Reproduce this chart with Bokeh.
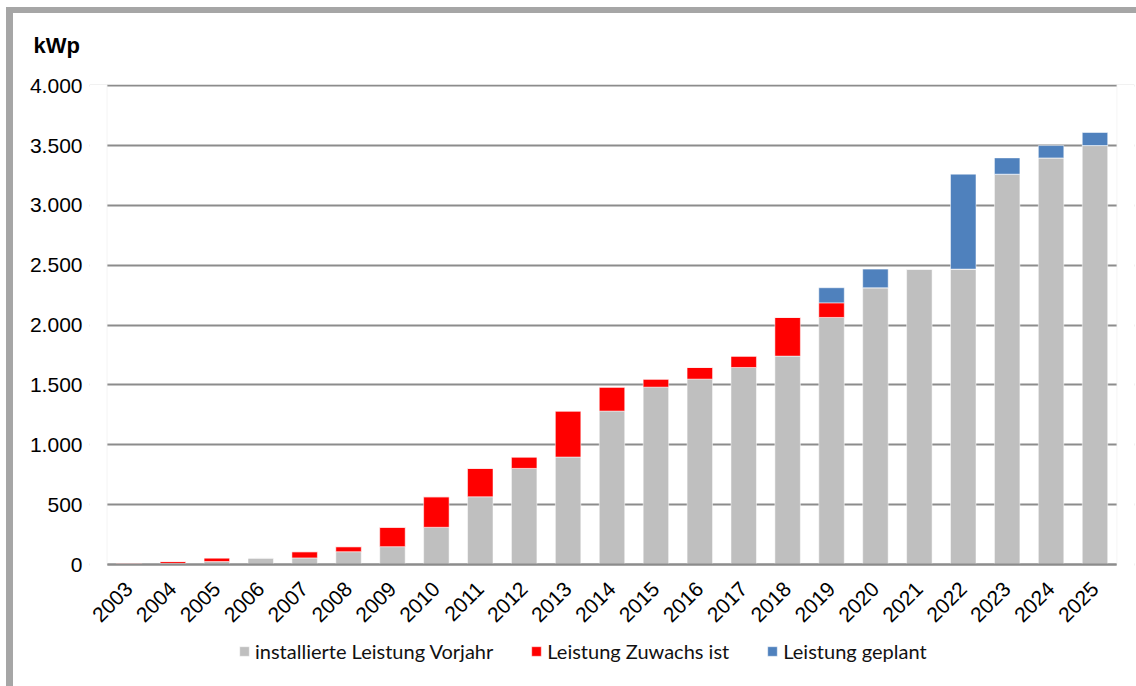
from math import pi

from bokeh.embed import file_html
from bokeh.models import (BoxAnnotation, ColumnDataSource, CustomJSTickFormatter,
                          FactorRange, InlineStyleSheet, Legend, LegendItem,
                          Range1d, Title)
from bokeh.plotting import figure
from bokeh.resources import INLINE

# Photovoltaik-Leistung je Jahr in kWp
years = [str(y) for y in range(2003, 2026)]
vorjahr = [0, 10, 25, 55, 55, 107, 149, 311, 566, 803, 898, 1282, 1482,
           1549, 1646, 1741, 2064, 2312, 2468, 2468, 3261, 3397, 3500]
zuwachs = [10, 15, 30, 0, 52, 42, 162, 255, 237, 95, 384, 200, 67,
           97, 95, 323, 122, 0, 0, 0, 0, 0, 0]
geplant = [0, 0, 0, 0, 0, 0, 0, 0, 0, 0, 0, 0, 0,
           0, 0, 0, 126, 156, 0, 793, 136, 103, 109]
y_ticks = [0, 500, 1000, 1500, 2000, 2500, 3000, 3500, 4000]

series = ["vorjahr", "zuwachs", "geplant"]
series_labels = ["installierte Leistung Vorjahr", "Leistung Zuwachs ist", "Leistung geplant"]
colors = ["#BFBFBF", "#FF0000", "#4F81BD"]

src = ColumnDataSource(dict(year=years, vorjahr=vorjahr, zuwachs=zuwachs, geplant=geplant))

# The plot frame reaches down to the page bottom so that the year labels and the
# legend sit inside it; the value axis itself runs from 0 to 4.000.  A little
# padding left and right keeps the rotated first year label inside the frame.
Y_TOP = 4010
Y_BOTTOM = -1019
N = len(years)

p = figure(
    x_range=FactorRange(*years, range_padding=0.4, range_padding_units="absolute"),
    y_range=Range1d(Y_BOTTOM, Y_TOP),
    width=1136, height=686,
    output_backend="svg", toolbar_location=None,
    min_border_left=89, min_border_right=2,
    min_border_top=84, min_border_bottom=0,
    background_fill_color="white", border_fill_color="white",
)

bars = p.vbar_stack(series, x="year", width=0.58, source=src,
                    fill_color=colors, line_color="white", line_alpha=0.5, line_width=1)

# blank out the gridlines in the side paddings, then a light border round the value area
for side in (dict(left=-2, right=0), dict(left=N, right=N + 2)):
    p.add_layout(BoxAnnotation(bottom=-40, top=Y_TOP + 100, fill_color="white", fill_alpha=1,
                               line_color="white", line_width=2, level="glyph", **side))
p.add_layout(BoxAnnotation(left=0, right=N, bottom=0, fill_alpha=0,
                           line_color="#d9d9d9", line_width=1, level="glyph"))

# axes
p.yaxis.ticker = y_ticks
p.yaxis.formatter = CustomJSTickFormatter(
    code="return Math.round(tick).toString().replace(/\\B(?=(\\d{3})+(?!\\d))/g, '.');")
p.yaxis.axis_line_color = None
p.yaxis.major_tick_line_color = None
p.yaxis.minor_tick_line_color = None
p.yaxis.major_tick_out = 0
p.yaxis.major_label_standoff = 7
p.yaxis.major_label_text_font = "Liberation Sans"
p.yaxis.major_label_text_font_size = "21px"
p.yaxis.major_label_text_color = "black"

p.xaxis.fixed_location = 0
p.xaxis.bounds = (0, N)
p.xaxis.axis_line_color = "#8c8c8c"
p.xaxis.axis_line_width = 2
p.xaxis.major_tick_line_color = None
p.xaxis.major_tick_out = 0
p.xaxis.major_label_orientation = pi / 4
p.xaxis.major_label_standoff = 21
p.xaxis.major_label_text_font = "Liberation Sans"
p.xaxis.major_label_text_font_size = "21px"
p.xaxis.major_label_text_color = "black"

p.xgrid.grid_line_color = None
p.ygrid.grid_line_color = "#8c8c8c"
p.ygrid.grid_line_width = 2

p.outline_line_color = None

# unit label above the value axis
p.add_layout(Title(text="kWp", align="left", offset=-56, standoff=53,
                   text_font="Liberation Sans", text_font_style="bold",
                   text_font_size="22px", text_color="black"), "above")

# legend under the year labels
legend = Legend(
    items=[LegendItem(label=lab, renderers=[r]) for lab, r in zip(series_labels, bars)],
    orientation="horizontal", location=(149, 23),
    glyph_width=12, glyph_height=12, label_standoff=5, spacing=37,
    padding=0, margin=0, border_line_color=None, background_fill_alpha=0,
    label_text_font="Lato", label_text_font_size="20px", label_text_color="#111111",
)
p.add_layout(legend)

# grey frame along the top and left edges of the page
p.stylesheets = [InlineStyleSheet(css="""
:host { position: relative; }
:host::before { content: ""; position: absolute; left: 6px; top: 7px;
                width: 1130px; height: 6px; background: #a6a6a6; z-index: 10; }
:host::after  { content: ""; position: absolute; left: 6px; top: 7px;
                width: 7px; height: 679px; background: #a6a6a6; z-index: 10; }
""")]

open("out.html", "w").write(file_html(p, INLINE))
